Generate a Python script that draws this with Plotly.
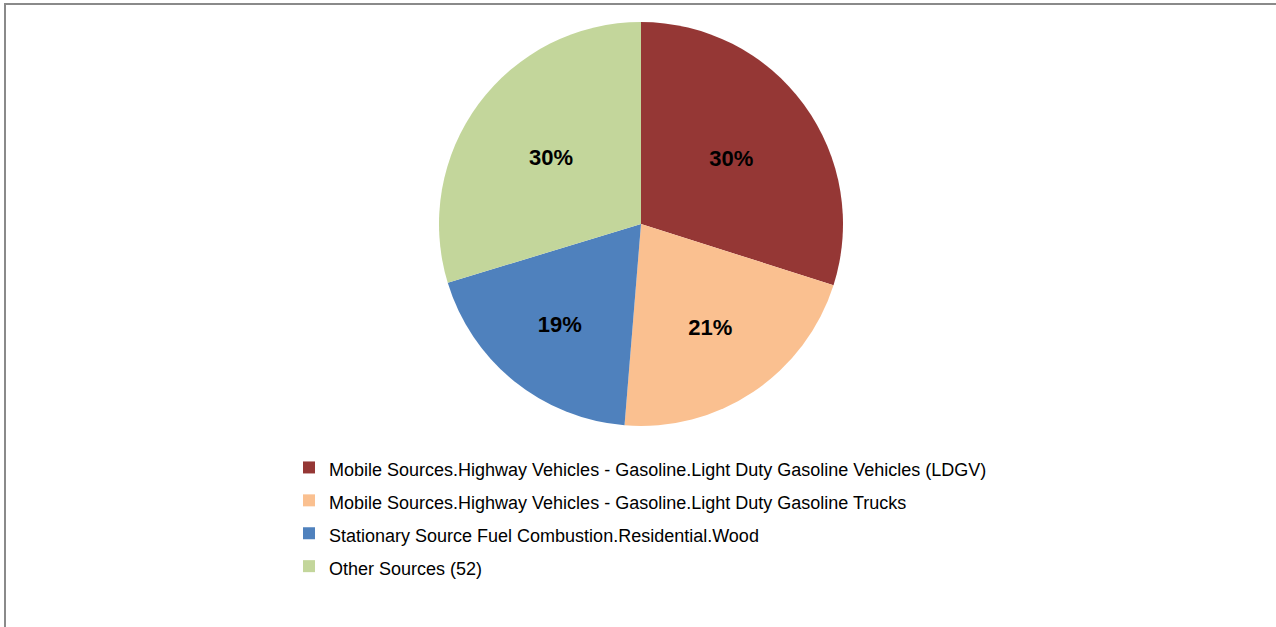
import plotly.graph_objects as go

categories = [
    "Mobile Sources.Highway Vehicles - Gasoline.Light Duty Gasoline Vehicles (LDGV)",
    "Mobile Sources.Highway Vehicles - Gasoline.Light Duty Gasoline Trucks",
    "Stationary Source Fuel Combustion.Residential.Wood",
    "Other Sources (52)",
]
shares = [29.9, 21.4, 19.0, 29.7]
colors = ["#953735", "#FAC090", "#4F81BD", "#C3D69B"]

W, H = 1276, 627
cx, cy, r = 641, 224, 202

legend_labels = ["<span style='font-size:18px'>%s</span>" % c for c in categories]

fig = go.Figure(
    go.Pie(
        labels=legend_labels,
        values=shares,
        sort=False,
        direction="clockwise",
        rotation=0,
        marker=dict(colors=colors, line=dict(width=0)),
        textinfo="percent",
        texttemplate="<b>%{percent:.0%}</b>",
        textposition="inside",
        insidetextorientation="horizontal",
        textfont=dict(family="Liberation Sans, Arial, sans-serif", size=22, color="black"),
        domain=dict(x=[(cx - r) / W, (cx + r) / W], y=[1 - (cy + r) / H, 1 - (cy - r) / H]),
        hoverinfo="label+percent",
    )
)

fig.update_layout(
    width=W,
    height=H,
    margin=dict(l=0, r=0, t=0, b=0),
    paper_bgcolor="white",
    plot_bgcolor="white",
    showlegend=True,
    legend=dict(
        x=289 / W,
        y=1 - 446 / H,
        xanchor="left",
        yanchor="top",
        font=dict(family="Liberation Sans, Arial, sans-serif", size=23, color="black"),
        bgcolor="rgba(0,0,0,0)",
    ),
    shapes=[
        dict(
            type="rect",
            xref="paper",
            yref="paper",
            x0=5 / W,
            x1=1.02,
            y0=-0.02,
            y1=1 - 4 / H,
            line=dict(color="#8a8a8a", width=2),
            fillcolor="rgba(0,0,0,0)",
        )
    ],
)

fig.write_html(
    "out.html",
    config={"displayModeBar": False},
    post_script="document.body.style.margin='0px';document.body.style.overflow='hidden';",
)
